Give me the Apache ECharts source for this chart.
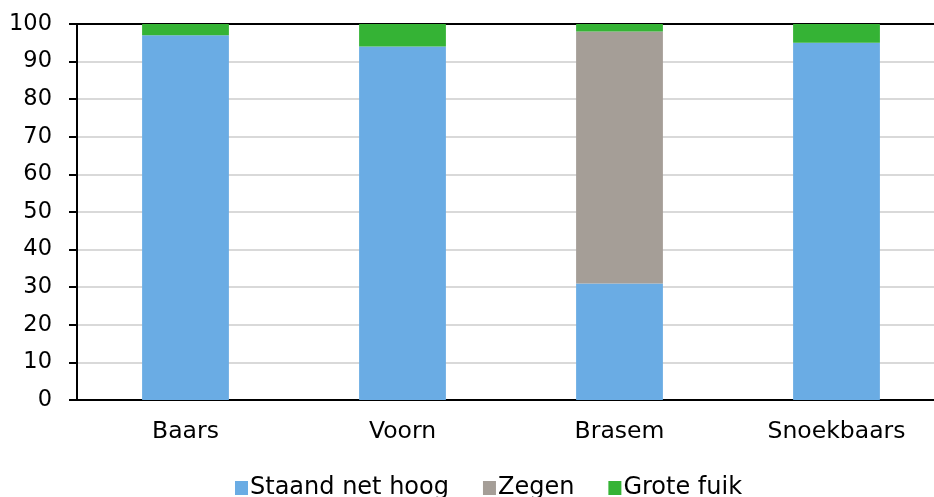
<!DOCTYPE html>
<html><head><meta charset="utf-8">
<script src="https://cdn.jsdelivr.net/npm/echarts@6/dist/echarts.min.js"></script>
<style>html,body{margin:0;padding:0;background:#fff;overflow:hidden;width:934px;height:497px}#c{width:945px;height:497px}</style>
</head><body><div id="c"></div>
<script>
const categories = ['Baars', 'Voorn', 'Brasem', 'Snoekbaars'];
const staandNetHoog = [97, 94, 31, 95];
const zegen = [0, 0, 67, 0];
const groteFuik = [3, 6, 2, 5];
const yTicks = [0, 100, 10];

const font = 'DejaVu Sans, Verdana, sans-serif';
const chart = echarts.init(document.getElementById('c'));
chart.setOption({
  animation: false,
  textStyle: { fontFamily: font },
  grid: { left: 77, top: 24, right: 0, bottom: 97, containLabel: false },
  legend: {
    top: 476, left: 235, padding: 0,
    itemWidth: 13, itemHeight: 14, itemGap: 34,
    icon: 'rect',
    textStyle: { fontFamily: font, fontSize: 24, color: '#000', padding: [0, 0, 0, -3] },
    data: ['Staand net hoog', 'Zegen', 'Grote fuik']
  },
  xAxis: [{
    type: 'category', data: categories,
    axisLine: { lineStyle: { color: '#000', width: 2 } },
    axisTick: { show: false },
    axisLabel: { fontFamily: font, fontSize: 23.5, color: '#000', margin: 20 }
  }, {
    type: 'category', data: categories, position: 'top',
    axisLine: { lineStyle: { color: '#000', width: 2 } },
    axisTick: { show: false }, axisLabel: { show: false }
  }],
  yAxis: {
    type: 'value', min: yTicks[0], max: yTicks[1], interval: yTicks[2],
    axisLine: { show: true, lineStyle: { color: '#000', width: 2 } },
    axisTick: { show: true, length: 8, lineStyle: { color: '#000', width: 2 } },
    axisLabel: { fontFamily: font, fontSize: 22.5, color: '#000', margin: 25 },
    splitLine: { lineStyle: { color: '#d9d9d9', width: 2 } }
  },
  series: [
    { name: 'Staand net hoog', type: 'bar', stack: 's', data: staandNetHoog, barWidth: '40%', itemStyle: { color: '#6aace4' } },
    { name: 'Zegen', type: 'bar', stack: 's', data: zegen, itemStyle: { color: '#a59e97' } },
    { name: 'Grote fuik', type: 'bar', stack: 's', data: groteFuik, itemStyle: { color: '#35b335' } }
  ]
});
</script></body></html>
